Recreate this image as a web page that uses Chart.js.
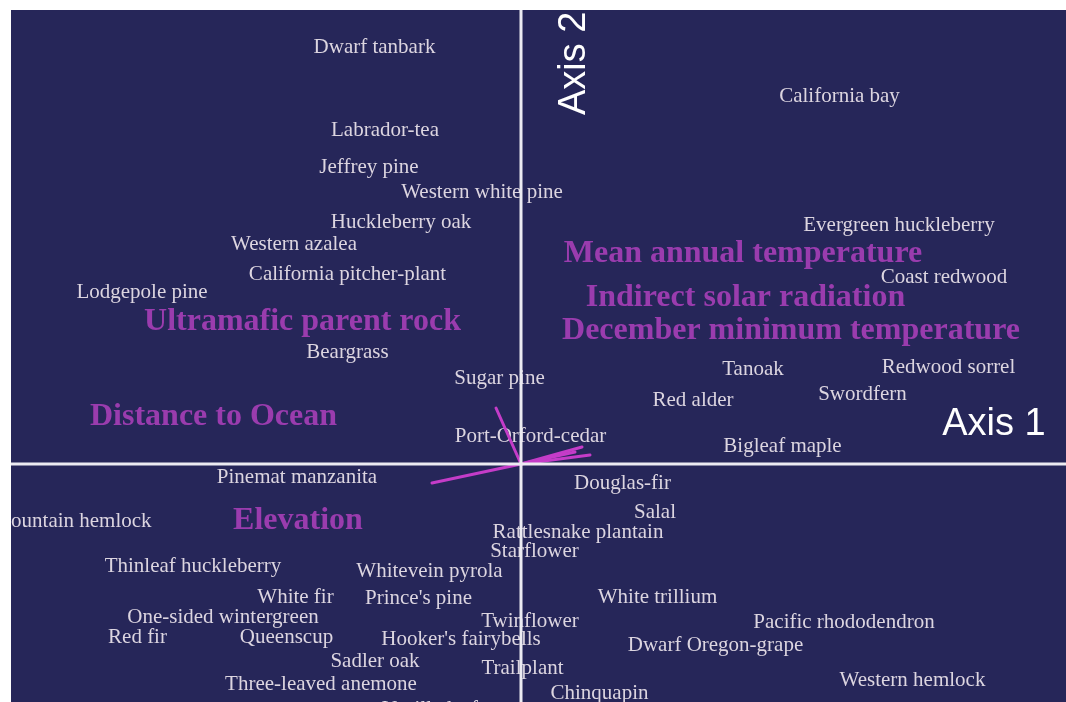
<!DOCTYPE html>
<html>
<head>
<meta charset="utf-8">
<script src="https://cdn.jsdelivr.net/npm/chart.js@4"></script>
<style>
  html, body { margin: 0; padding: 0; background: #ffffff; }
  #ordination { display: block; }
</style>
</head>
<body>
<canvas id="ordination" width="1066" height="702"></canvas>
<script>
// species scores (axis 1, axis 2)
const speciesNames = [
    "Dwarf tanbark", "California bay", "Labrador-tea", "Jeffrey pine", "Western white pine",
    "Huckleberry oak", "Evergreen huckleberry", "Western azalea", "California pitcher-plant",
    "Coast redwood", "Lodgepole pine", "Beargrass", "Tanoak", "Redwood sorrel", "Sugar pine",
    "Swordfern", "Red alder", "Port-Orford-cedar", "Bigleaf maple", "Pinemat manzanita",
    "Douglas-fir", "Salal", "Mountain hemlock", "Rattlesnake plantain", "Starflower",
    "Thinleaf huckleberry", "Whitevein pyrola", "White fir", "Prince's pine", "White trillium",
    "One-sided wintergreen", "Twinflower", "Pacific rhododendron", "Red fir", "Queenscup",
    "Hooker's fairybells", "Dwarf Oregon-grape", "Sadler oak", "Trailplant",
    "Three-leaved anemone", "Western hemlock", "Chinquapin", "Vanilla leaf"
];
const speciesX = [
    -0.293, 0.637, -0.272, -0.304, -0.078,
    -0.240, 0.756, -0.454, -0.347,
    0.846, -0.758, -0.347, 0.464, 0.855, -0.043,
    0.683, 0.344, 0.019, 0.523, -0.448,
    0.203, 0.268, -0.898, 0.114, 0.027,
    -0.656, -0.183, -0.451, -0.205, 0.273,
    -0.596, 0.018, 0.646, -0.767, -0.469,
    -0.120, 0.389, -0.292, 0.003,
    -0.400, 0.783, 0.157, -0.182
];
const speciesY = [
    0.834, 0.736, 0.668, 0.594, 0.544,
    0.484, 0.478, 0.440, 0.380,
    0.374, 0.344, 0.224, 0.190, 0.194, 0.172,
    0.140, 0.128, 0.056, 0.036, -0.026,
    -0.038, -0.096, -0.114, -0.136, -0.174,
    -0.204, -0.214, -0.266, -0.268, -0.266,
    -0.306, -0.314, -0.316, -0.346, -0.346,
    -0.350, -0.362, -0.394, -0.408,
    -0.440, -0.432, -0.458, -0.490
];

// environmental variables, label positions
const envNames = [
    "Mean annual temperature", "Indirect solar radiation", "Ultramafic parent rock",
    "December minimum temperature", "Distance to Ocean", "Elevation"
];
const envX = [0.444, 0.449, -0.437, 0.540, -0.615, -0.446];
const envY = [0.420, 0.332, 0.284, 0.266, 0.094, -0.114];

// biplot vector tips (drawn from the origin)
const vectorX = [-0.050, -0.178, 0.108, 0.122, 0.138];
const vectorY = [0.112, -0.038, 0.024, 0.034, 0.018];

// plot extent in score units
const xMin = -1.02, xMax = 1.09;
const yMin = -0.476, yMax = 0.908;

const axisTitles = ["Axis 1", "Axis 2"];
const axisTitleX = [0.946, 0.108];
const axisTitleY = [0.078, 0.698];

const bgColor = "#262659";
const speciesColor = "#dcd5e0";
const envColor = "#9a3cae";
const vectorColor = "#c43cc8";
const axisColor = "#ecebf2";

function pts(xs, ys) {
    return xs.map((x, i) => ({ x: x, y: ys[i] }));
}

const datasets = [];

// axis lines through the origin
datasets.push({
    id: "axis1",
    data: [{ x: xMin, y: 0 }, { x: xMax, y: 0 }],
    showLine: true, borderColor: axisColor, borderWidth: 3, pointRadius: 0
});
datasets.push({
    id: "axis2",
    data: [{ x: 0, y: yMin }, { x: 0, y: yMax }],
    showLine: true, borderColor: axisColor, borderWidth: 3, pointRadius: 0
});

vectorX.forEach((vx, i) => {
    datasets.push({
        id: "vector",
        data: [{ x: 0, y: 0 }, { x: vx, y: vectorY[i] }],
        showLine: true, borderColor: vectorColor, borderWidth: 3,
        borderCapStyle: "round", pointRadius: 0
    });
});

// label anchors: invisible points, text drawn by the plugin below
datasets.push({ id: "species", texts: speciesNames, data: pts(speciesX, speciesY), pointRadius: 0 });
datasets.push({ id: "env", texts: envNames, data: pts(envX, envY), pointRadius: 0 });
datasets.push({ id: "titles", texts: axisTitles, data: pts(axisTitleX, axisTitleY), pointRadius: 0 });

const labelPlugin = {
    id: "labelPlugin",
    beforeDraw(chart) {
        const { ctx, chartArea } = chart;
        ctx.save();
        ctx.fillStyle = bgColor;
        ctx.fillRect(chartArea.left, chartArea.top, chartArea.right - chartArea.left, chartArea.bottom - chartArea.top);
        ctx.restore();
    },
    beforeDatasetsDraw(chart) {
        const { ctx, chartArea } = chart;
        ctx.save();
        ctx.beginPath();
        ctx.rect(chartArea.left, chartArea.top, chartArea.right - chartArea.left, chartArea.bottom - chartArea.top);
        ctx.clip();
        ctx.textAlign = "center";
        ctx.textBaseline = "middle";

        chart.data.datasets.forEach((ds, di) => {
            if (!ds.texts) return;
            const meta = chart.getDatasetMeta(di);
            meta.data.forEach((el, i) => {
                const txt = ds.texts[i];
                if (ds.id === "species") {
                    ctx.font = "21px 'Liberation Serif', serif";
                    ctx.fillStyle = speciesColor;
                    ctx.fillText(txt, el.x, el.y);
                } else if (ds.id === "env") {
                    ctx.font = "bold 32px 'Liberation Serif', serif";
                    ctx.fillStyle = envColor;
                    ctx.fillText(txt, el.x, el.y);
                } else {
                    ctx.font = "38px 'Liberation Sans', sans-serif";
                    ctx.fillStyle = "#ffffff";
                    if (i === 1) {
                        // vertical axis title reads upward from its anchor
                        ctx.save();
                        ctx.translate(el.x, el.y);
                        ctx.rotate(-Math.PI / 2);
                        ctx.textAlign = "left";
                        ctx.fillText(txt, 0, 0);
                        ctx.restore();
                    } else {
                        ctx.fillText(txt, el.x, el.y);
                    }
                }
            });
        });
        ctx.restore();
    }
};

new Chart(document.getElementById("ordination"), {
    type: "scatter",
    data: { datasets: datasets },
    options: {
        responsive: false,
        animation: false,
        layout: { padding: { left: 11, top: 10, right: 0, bottom: 0 } },
        scales: {
            x: { type: "linear", min: xMin, max: xMax, display: false },
            y: { type: "linear", min: yMin, max: yMax, display: false }
        },
        plugins: {
            legend: { display: false },
            tooltip: { enabled: false }
        }
    },
    plugins: [labelPlugin]
});
</script>
</body>
</html>
